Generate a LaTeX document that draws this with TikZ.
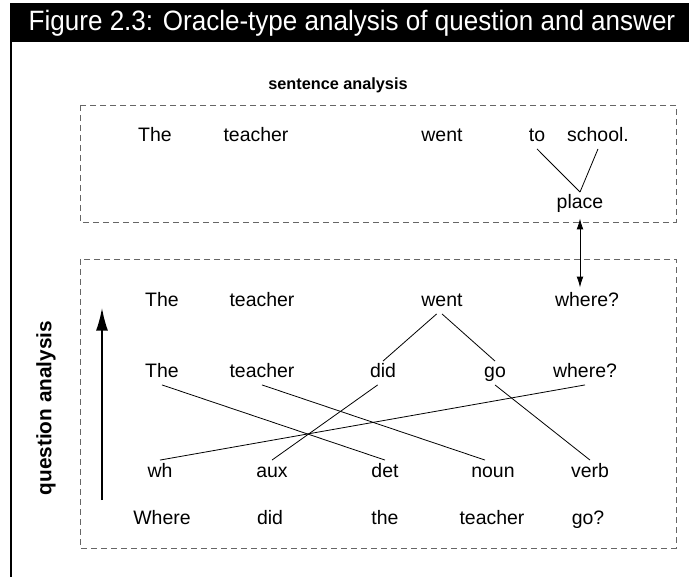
\documentclass[tikz,border=0pt]{standalone}
\usepackage{fontspec}
\setmainfont{Liberation Sans}
\usetikzlibrary{arrows,arrows.meta,positioning}

\begin{document}
\begin{tikzpicture}[x=0.75pt, y=-0.75pt, >=latex',
    word/.style={inner sep=2pt, text height=10.5pt, text depth=3pt, font=\fontsize{14.6}{17}\selectfont},
    headtext/.style={inner sep=0pt, font=\fontsize{12.2}{14}\selectfont\bfseries},
    sidetext/.style={inner sep=0pt, rotate=90, font=\fontsize{15.6}{18}\selectfont\bfseries},
    titletext/.style={inner sep=0pt, text=white, font=\fontsize{21}{24}\selectfont},
    dashbox/.style={draw=black!60, line width=0.7pt, dash pattern=on 4.5pt off 3pt},
    link/.style={line width=0.6pt}]
    \useasboundingbox (0,0) rectangle (689,577);
    % Title bar
    \fill[black] (10,3) rectangle (689,42);
    \draw[line width=2pt] (11,41) -- (11,577);
    \node[titletext] (title) at (352,23) {\scalebox{0.93}[1]{Figure 2.3: Oracle-type analysis of question and answer}};
    % Boxes
    \draw[dashbox] (80,105) rectangle (676,222);
    \draw[dashbox] (80,259) rectangle (676,548);
    \node[headtext] (sentlabel) at (338,85) {sentence analysis};
    \node[sidetext] (questlabel) at (46,408) {question analysis};
    % Nodes: sentence
    \node[word] (s1) at (155,137) {The};
    \node[word] (s2) at (256,137) {teacher};
    \node[word] (s3) at (442,137) {went};
    \node[word] (s4) at (537,137) {to};
    \node[word] (s5) at (598,137) {school.};
    \node[word] (place) at (580,204) {place};
    % Nodes: question
    \node[word] (a1) at (162,302) {The};
    \node[word] (a2) at (262,302) {teacher};
    \node[word] (a3) at (442,302) {went};
    \node[word] (a4) at (587,302) {where?};
    \node[word] (b1) at (162,373) {The};
    \node[word] (b2) at (262,373) {teacher};
    \node[word] (b3) at (383,373) {did};
    \node[word] (b4) at (495,373) {go};
    \node[word] (b5) at (585,373) {where?};
    \node[word] (c1) at (160,472) {wh};
    \node[word] (c2) at (272,472) {aux};
    \node[word] (c3) at (385,472) {det};
    \node[word] (c4) at (493,472) {noun};
    \node[word] (c5) at (590,472) {verb};
    \node[word] (d1) at (162,519) {Where};
    \node[word] (d2) at (270,519) {did};
    \node[word] (d3) at (385,519) {the};
    \node[word] (d4) at (492,519) {teacher};
    \node[word] (d5) at (588,519) {go?};
    \coordinate (qbot) at (102,500);
    \coordinate (qtop) at (102,308);
    % Lines
    \draw[link] (s4.south) -- (place.north);
    \draw[link] (s5.south) -- (place.north);
    \draw[link, {Latex[length=8pt,width=5pt]}-{Latex[length=8pt,width=5pt]}] ([yshift=-2pt]place.south) -- ([yshift=2pt]place.south |- a4.north);
    \draw[link] ([xshift=-4pt]a3.south) -- (b3.north);
    \draw[link] (a3.south) -- (b4.north);
    \draw[link] (b1.south) -- (c3.north);
    \draw[link] (b2.south) -- ([xshift=-6pt]c4.north);
    \draw[link] ([xshift=-4pt]b3.south) -- (c2.north);
    \draw[link] (b4.south) -- (c5.north);
    \draw[link] (b5.south) -- (c1.north);
    \draw[line width=1.1pt, -{Latex[length=17pt,width=9pt]}] (qbot) -- (qtop);
\end{tikzpicture}
\end{document}
